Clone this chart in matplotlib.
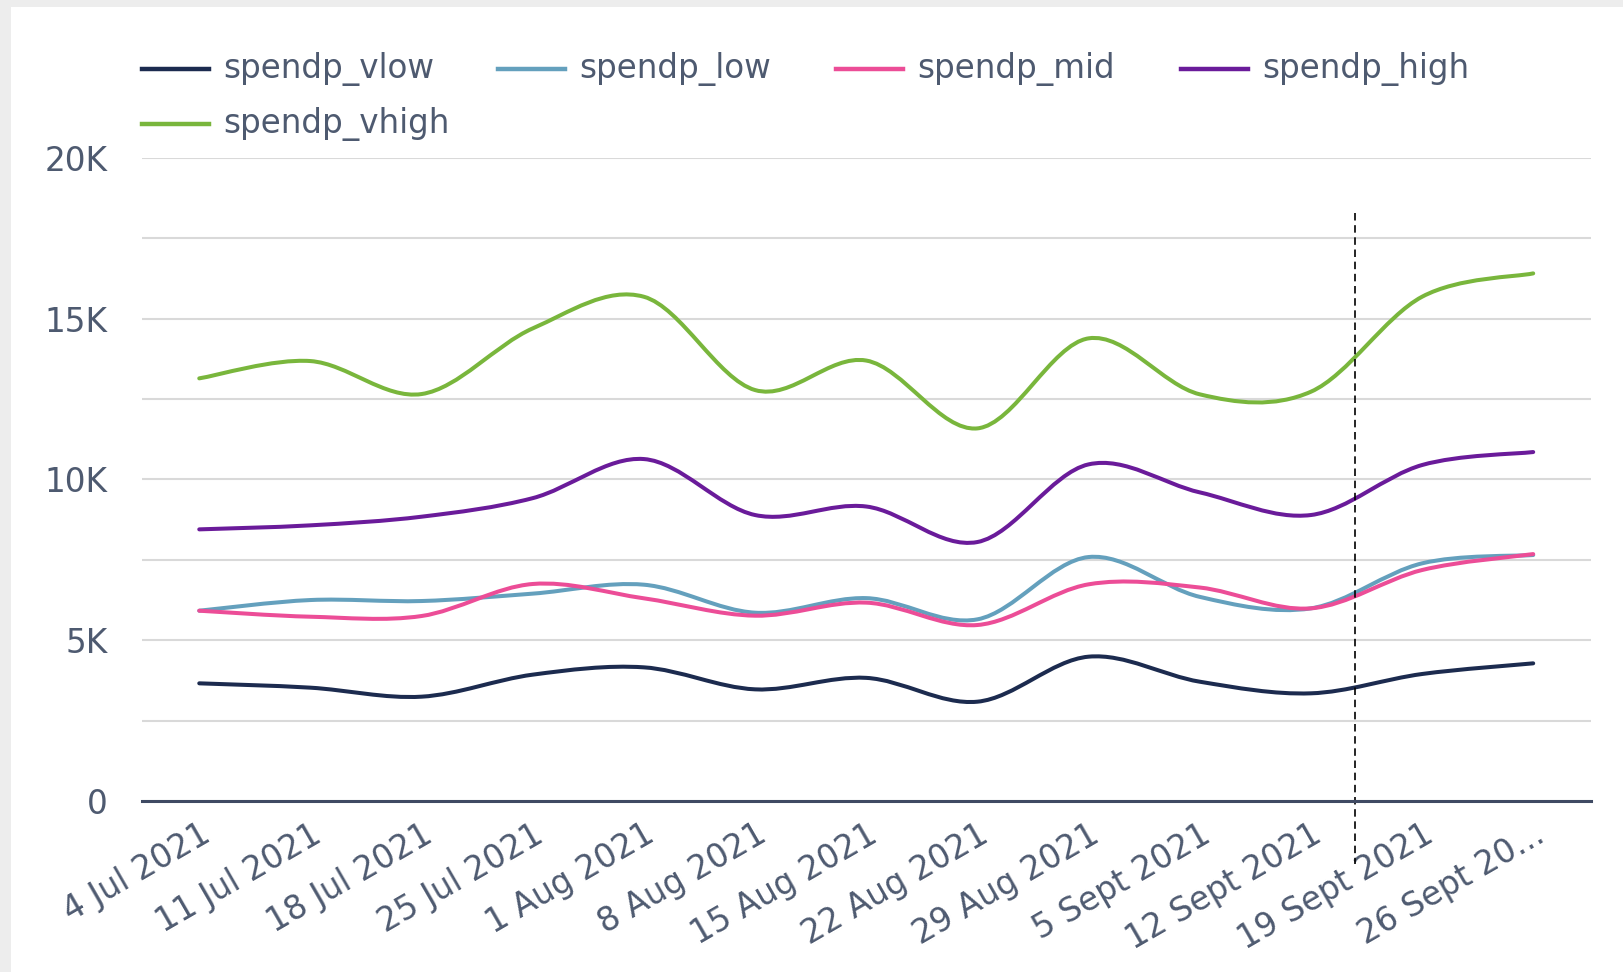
import numpy as np
import matplotlib
matplotlib.use("Agg")
import matplotlib.pyplot as plt
from matplotlib.path import Path
from matplotlib.patches import PathPatch, Rectangle
from matplotlib.lines import Line2D

# ---------------- data ----------------
weeks = ["4 Jul 2021", "11 Jul 2021", "18 Jul 2021", "25 Jul 2021", "1 Aug 2021",
         "8 Aug 2021", "15 Aug 2021", "22 Aug 2021", "29 Aug 2021", "5 Sept 2021",
         "12 Sept 2021", "19 Sept 2021", "26 Sept 20..."]
spendp_vlow = [3660, 3525, 3245, 3930, 4157, 3473, 3830, 3089, 4489, 3711, 3349, 3950, 4282]
spendp_low = [5919, 6251, 6220, 6450, 6728, 5857, 6310, 5650, 7588, 6350, 5992, 7392, 7651]
spendp_mid = [5919, 5732, 5754, 6750, 6304, 5764, 6170, 5474, 6739, 6640, 5992, 7184, 7680]
spendp_high = [8449, 8574, 8843, 9420, 10636, 8895, 9160, 8055, 10470, 9600, 8895, 10450, 10854]
spendp_vhigh = [13146, 13684, 12658, 14700, 15684, 12782, 13700, 11590, 14390, 12650, 12730, 15684, 16411]
series_names = ["spendp_vlow", "spendp_low", "spendp_mid", "spendp_high", "spendp_vhigh"]
series_values = [spendp_vlow, spendp_low, spendp_mid, spendp_high, spendp_vhigh]
y_ticks = [0, 2500, 5000, 7500, 10000, 12500, 15000, 17500, 20000]
y_labels = ["0", "", "5K", "", "10K", "", "15K", "", "20K"]
marker_x = 10.4  # position of the vertical dashed reference line (between 12 and 19 Sept)
marker_top = 18300

# ---------------- style ----------------
colors = ["#1c2b4f", "#64a0bd", "#ec4d97", "#6a1b9a", "#79b63c"]
text_color = "#4e5a70"
fs = 23.5
W, H = 1623, 972
plt.rcParams["font.family"] = ["DejaVu Sans"]

fig = plt.figure(figsize=(W / 100, H / 100), dpi=100, facecolor="#ededed")
fig.add_artist(Rectangle((11 / W, 0), 1, 1 - 7 / H, transform=fig.transFigure,
                         facecolor="white", edgecolor="none", zorder=0))

left, right, top, bottom = 142, 1591, 158, 801
ax = fig.add_axes([left / W, 1 - bottom / H, (right - left) / W, (bottom - top) / H])
ax.set_facecolor("none")


def smooth_path(xs, ys):
    xs = np.asarray(xs, float)
    ys = np.asarray(ys, float)
    xp = np.concatenate([[xs[0]], xs, [xs[-1]]])
    yp = np.concatenate([[ys[0]], ys, [ys[-1]]])
    verts = [(xs[0], ys[0])]
    codes = [Path.MOVETO]
    for i in range(len(xs) - 1):
        c1 = (xs[i] + (xp[i + 2] - xp[i]) / 6, ys[i] + (yp[i + 2] - yp[i]) / 6)
        c2 = (xs[i + 1] - (xp[i + 3] - xp[i + 1]) / 6, ys[i + 1] - (yp[i + 3] - yp[i + 1]) / 6)
        verts += [c1, c2, (xs[i + 1], ys[i + 1])]
        codes += [Path.CURVE4] * 3
    return Path(verts, codes)


x = np.arange(len(weeks))
for name, vals, c in zip(series_names, series_values, colors):
    ax.add_patch(PathPatch(smooth_path(x, vals), fill=False, edgecolor=c, lw=2.9,
                           capstyle="round", joinstyle="round", zorder=3))

ax.plot([marker_x, marker_x], [marker_top, -1950], color="black", lw=1.2,
        linestyle=(0, (4.5, 2.8)), clip_on=False, zorder=4)

ax.set_xlim(-0.515, 12.52)
ax.set_ylim(0, 20000)
ax.set_yticks(y_ticks)
ax.set_yticklabels(y_labels)
ax.set_xticks(x)
ax.set_xticklabels(weeks, rotation=30, ha="right", va="top", rotation_mode="anchor")
ax.tick_params(axis="x", length=0, pad=12, labelsize=fs, labelcolor=text_color)
ax.tick_params(axis="y", length=0, pad=25, labelsize=fs, labelcolor=text_color)
ax.grid(axis="y", color="#d9d9d9", lw=1.5, zorder=0)
ax.set_axisbelow(True)
for s in ["left", "right", "top"]:
    ax.spines[s].set_visible(False)
ax.spines["bottom"].set_color("#3f4a63")
ax.spines["bottom"].set_linewidth(2.2)
ax.spines["bottom"].set_zorder(5)

# ---------------- legend (flow layout like the original) ----------------
legend_pos = [(142, 69), (498, 69), (836, 69), (1181, 69), (142, 124)]
for (px, py), name, c in zip(legend_pos, series_names, colors):
    fig.add_artist(Line2D([px / W, (px + 67) / W], [1 - py / H, 1 - py / H],
                          transform=fig.transFigure, color=c, lw=3.2))
    fig.text((px + 81) / W, 1 - py / H, name, color=text_color, fontsize=fs,
             ha="left", va="center")

fig.savefig("out.png", dpi=100, facecolor=fig.get_facecolor())
